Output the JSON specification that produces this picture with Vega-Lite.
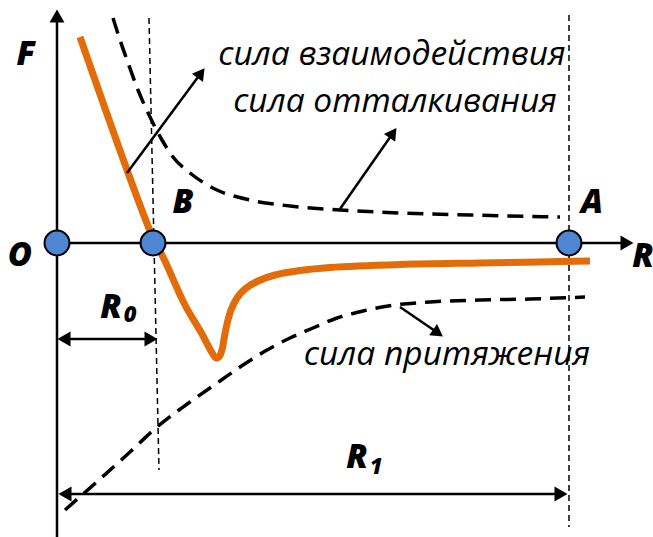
{
  "$schema": "https://vega.github.io/schema/vega-lite/v6.json",
  "width": 653,
  "height": 537,
  "autosize": {"type": "none"},
  "padding": 0,
  "background": "white",
  "config": {"view": {"stroke": null}},
  "datasets": {
    "guides": [
      {"x": 149, "y": 18, "x2": 159, "y2": 470},
      {"x": 569, "y": 15, "x2": 569, "y2": 527}
    ],
    "axes": [
      {"x": 57, "y": 537, "x2": 57, "y2": 20},
      {"x": 57, "y": 243, "x2": 625, "y2": 243}
    ],
    "pointers": [
      {"x": 127, "y": 173, "x2": 201, "y2": 73},
      {"x": 340, "y": 209, "x2": 393, "y2": 133},
      {"x": 400, "y": 307, "x2": 438, "y2": 333},
      {"x": 62, "y": 339, "x2": 152, "y2": 339},
      {"x": 63, "y": 494, "x2": 562, "y2": 494}
    ],
    "interaction": [
      {"x": 80, "y": 37}, {"x": 153, "y": 238}, {"x": 164, "y": 259}, {"x": 185, "y": 305},
      {"x": 202, "y": 334}, {"x": 211, "y": 351}, {"x": 216, "y": 358}, {"x": 219, "y": 357},
      {"x": 222, "y": 350}, {"x": 224, "y": 339}, {"x": 227, "y": 324}, {"x": 231, "y": 310},
      {"x": 237, "y": 298}, {"x": 245, "y": 289}, {"x": 258, "y": 281}, {"x": 275, "y": 275},
      {"x": 300, "y": 270.5}, {"x": 330, "y": 267.5}, {"x": 400, "y": 264.5}, {"x": 480, "y": 263},
      {"x": 540, "y": 262}, {"x": 590, "y": 261}
    ],
    "repulsion": [
      {"x": 113, "y": 18}, {"x": 120, "y": 40}, {"x": 127, "y": 60}, {"x": 138, "y": 90},
      {"x": 150, "y": 117}, {"x": 162, "y": 140}, {"x": 173, "y": 157}, {"x": 190, "y": 173},
      {"x": 217, "y": 190}, {"x": 250, "y": 200}, {"x": 290, "y": 206}, {"x": 340, "y": 210},
      {"x": 400, "y": 213}, {"x": 470, "y": 215}, {"x": 560, "y": 217}
    ],
    "attraction": [
      {"x": 65, "y": 510}, {"x": 100, "y": 479}, {"x": 130, "y": 452}, {"x": 157, "y": 427},
      {"x": 190, "y": 402}, {"x": 220, "y": 381}, {"x": 243, "y": 365}, {"x": 267, "y": 350},
      {"x": 290, "y": 338}, {"x": 313, "y": 328}, {"x": 337, "y": 318}, {"x": 363, "y": 311},
      {"x": 395, "y": 305}, {"x": 430, "y": 302}, {"x": 480, "y": 300}, {"x": 530, "y": 299},
      {"x": 585, "y": 297}
    ],
    "head_up": [{"x": 57, "y": 16}],
    "head_right": [{"x": 627, "y": 243}, {"x": 151, "y": 339}, {"x": 561, "y": 494}],
    "head_left": [{"x": 64, "y": 339}, {"x": 65, "y": 494}],
    "head_a1": [{"x": 201, "y": 73}],
    "head_a2": [{"x": 393, "y": 133}],
    "head_a3": [{"x": 438, "y": 333}],
    "dots": [
      {"name": "O", "x": 57, "y": 243},
      {"name": "B", "x": 153, "y": 243},
      {"name": "A", "x": 569, "y": 243}
    ],
    "letters": [
      {"t": "F", "x": 26, "y": 65},
      {"t": "O", "x": 20, "y": 266},
      {"t": "B", "x": 183, "y": 213},
      {"t": "A", "x": 592, "y": 213},
      {"t": "R", "x": 643, "y": 267},
      {"t": "R", "x": 111, "y": 318},
      {"t": "R", "x": 357, "y": 468}
    ],
    "subs": [
      {"t": "0", "x": 130, "y": 322},
      {"t": "1", "x": 376, "y": 474}
    ],
    "captions": [
      {"t": "сила взаимодействия", "x": 392, "y": 65},
      {"t": "сила отталкивания", "x": 395, "y": 112},
      {"t": "сила притяжения", "x": 447, "y": 365}
    ]
  },
  "layer": [
    {
      "data": {"name": "guides"},
      "mark": {"type": "rule", "stroke": "black", "strokeWidth": 1.5, "strokeDash": [6, 4]},
      "encoding": {
        "x": {"field": "x", "type": "quantitative", "scale": {"domain": [0, 653], "nice": false, "zero": false}, "axis": null},
        "y": {"field": "y", "type": "quantitative", "scale": {"domain": [0, 537], "nice": false, "zero": false, "reverse": true}, "axis": null},
        "x2": {"field": "x2"},
        "y2": {"field": "y2"}
      }
    },
    {
      "data": {"name": "axes"},
      "mark": {"type": "rule", "stroke": "black", "strokeWidth": 2.5},
      "encoding": {
        "x": {"field": "x", "type": "quantitative"},
        "y": {"field": "y", "type": "quantitative"},
        "x2": {"field": "x2"},
        "y2": {"field": "y2"}
      }
    },
    {
      "data": {"name": "repulsion"},
      "mark": {"type": "line", "stroke": "black", "strokeWidth": 3.5, "strokeDash": [16, 9], "interpolate": "monotone"},
      "encoding": {
        "x": {"field": "x", "type": "quantitative"},
        "y": {"field": "y", "type": "quantitative"}
      }
    },
    {
      "data": {"name": "attraction"},
      "mark": {"type": "line", "stroke": "black", "strokeWidth": 3.5, "strokeDash": [16, 9], "interpolate": "monotone"},
      "encoding": {
        "x": {"field": "x", "type": "quantitative"},
        "y": {"field": "y", "type": "quantitative"}
      }
    },
    {
      "data": {"name": "interaction"},
      "mark": {"type": "line", "stroke": "#E36C0A", "strokeWidth": 7, "interpolate": "catmull-rom", "strokeCap": "butt"},
      "encoding": {
        "x": {"field": "x", "type": "quantitative"},
        "y": {"field": "y", "type": "quantitative"}
      }
    },
    {
      "data": {"name": "pointers"},
      "mark": {"type": "rule", "stroke": "black", "strokeWidth": 2.5},
      "encoding": {
        "x": {"field": "x", "type": "quantitative"},
        "y": {"field": "y", "type": "quantitative"},
        "x2": {"field": "x2"},
        "y2": {"field": "y2"}
      }
    },
    {
      "data": {"name": "head_up"},
      "mark": {"type": "point", "shape": "triangle-up", "filled": true, "color": "black", "opacity": 1, "size": 225, "angle": 0},
      "encoding": {"x": {"field": "x", "type": "quantitative"}, "y": {"field": "y", "type": "quantitative"}}
    },
    {
      "data": {"name": "head_right"},
      "mark": {"type": "point", "shape": "triangle-up", "filled": true, "color": "black", "opacity": 1, "size": 225, "angle": 90},
      "encoding": {"x": {"field": "x", "type": "quantitative"}, "y": {"field": "y", "type": "quantitative"}}
    },
    {
      "data": {"name": "head_left"},
      "mark": {"type": "point", "shape": "triangle-up", "filled": true, "color": "black", "opacity": 1, "size": 225, "angle": 270},
      "encoding": {"x": {"field": "x", "type": "quantitative"}, "y": {"field": "y", "type": "quantitative"}}
    },
    {
      "data": {"name": "head_a1"},
      "mark": {"type": "point", "shape": "triangle-up", "filled": true, "color": "black", "opacity": 1, "size": 190, "angle": 36.6},
      "encoding": {"x": {"field": "x", "type": "quantitative"}, "y": {"field": "y", "type": "quantitative"}}
    },
    {
      "data": {"name": "head_a2"},
      "mark": {"type": "point", "shape": "triangle-up", "filled": true, "color": "black", "opacity": 1, "size": 190, "angle": 35.1},
      "encoding": {"x": {"field": "x", "type": "quantitative"}, "y": {"field": "y", "type": "quantitative"}}
    },
    {
      "data": {"name": "head_a3"},
      "mark": {"type": "point", "shape": "triangle-up", "filled": true, "color": "black", "opacity": 1, "size": 190, "angle": 124.9},
      "encoding": {"x": {"field": "x", "type": "quantitative"}, "y": {"field": "y", "type": "quantitative"}}
    },
    {
      "data": {"name": "dots"},
      "mark": {"type": "point", "shape": "circle", "filled": true, "fill": "#4F86D4", "stroke": "black", "strokeWidth": 2, "opacity": 1, "size": 620},
      "encoding": {"x": {"field": "x", "type": "quantitative"}, "y": {"field": "y", "type": "quantitative"}}
    },
    {
      "data": {"name": "letters"},
      "mark": {"type": "text", "font": "Open Sans", "fontStyle": "italic", "fontWeight": 800, "fontSize": 33, "align": "center", "baseline": "alphabetic", "color": "black"},
      "encoding": {"x": {"field": "x", "type": "quantitative"}, "y": {"field": "y", "type": "quantitative"}, "text": {"field": "t"}}
    },
    {
      "data": {"name": "subs"},
      "mark": {"type": "text", "font": "Open Sans", "fontStyle": "italic", "fontWeight": 800, "fontSize": 22, "align": "center", "baseline": "alphabetic", "color": "black"},
      "encoding": {"x": {"field": "x", "type": "quantitative"}, "y": {"field": "y", "type": "quantitative"}, "text": {"field": "t"}}
    },
    {
      "data": {"name": "captions"},
      "mark": {"type": "text", "font": "Open Sans", "fontStyle": "italic", "fontSize": 33.5, "align": "center", "baseline": "alphabetic", "color": "black"},
      "encoding": {"x": {"field": "x", "type": "quantitative"}, "y": {"field": "y", "type": "quantitative"}, "text": {"field": "t"}}
    }
  ]
}
